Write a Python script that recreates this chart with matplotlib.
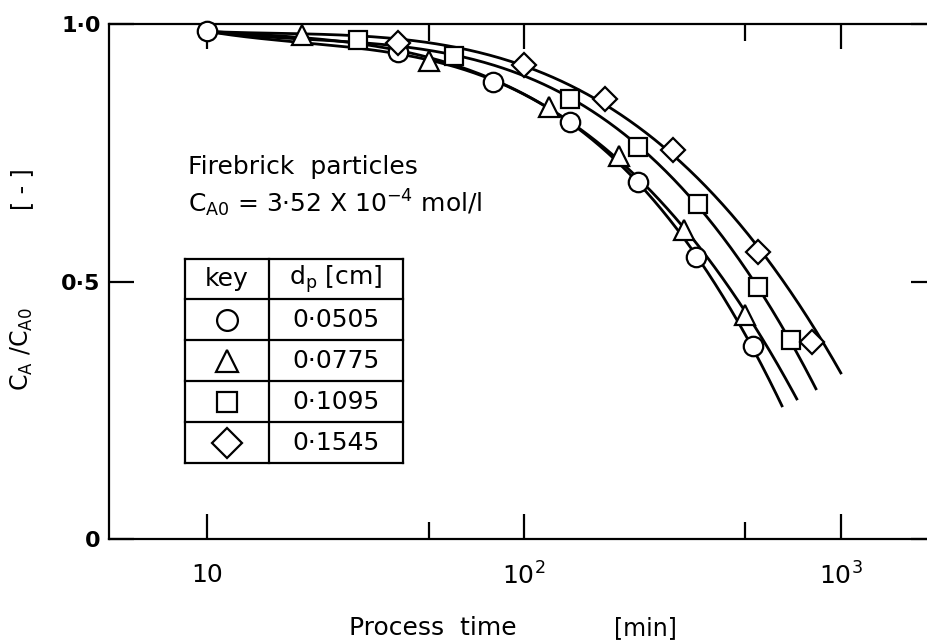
import matplotlib
matplotlib.use("Agg")
import matplotlib.pyplot as plt
from matplotlib.ticker import NullFormatter, FixedLocator
import numpy as np

# ------------------ Data ------------------
sizes = ["0·0505", "0·0775", "0·1095", "0·1545"]   # d_p [cm]
markers = ["o", "^", "s", "D"]

t_circle = [10, 40, 80, 140, 230, 350, 530]
v_circle = [0.986, 0.945, 0.887, 0.810, 0.693, 0.547, 0.375]

t_tri = [20, 50, 120, 200, 320, 500]
v_tri = [0.978, 0.928, 0.839, 0.744, 0.600, 0.435]

t_sq = [30, 60, 140, 230, 355, 550, 700]
v_sq = [0.969, 0.938, 0.854, 0.761, 0.650, 0.489, 0.386]

t_dia = [40, 100, 180, 295, 550, 815]
v_dia = [0.963, 0.920, 0.854, 0.755, 0.557, 0.383]

# smooth curves: common start point, individual end points
start_t, start_v = 10, 0.986
end_t = [656, 731, 840, 1007]
end_v = [0.256, 0.270, 0.289, 0.322]

series = [(t_circle, v_circle), (t_tri, v_tri), (t_sq, v_sq), (t_dia, v_dia)]

plt.rcParams.update({
    "font.family": "DejaVu Sans",
    "mathtext.default": "regular",
})

fig = plt.figure(figsize=(9.27, 6.42), dpi=100)
ax = fig.add_axes([0.1176, 0.1604, 0.892, 0.802])

# ------------------ Curves + points ------------------
msize = {"o": 14, "^": 15, "s": 13, "D": 12}
for (t, v), mk, te, ve in zip(series, markers, end_t, end_v):
    tt = np.array([start_t] + t + [te], dtype=float)
    vv = np.array([start_v] + v + [ve], dtype=float)
    w = np.ones_like(tt)
    w[0] = w[-1] = 4
    coef = np.polyfit(np.log10(tt), vv, 3, w=w)
    tc = np.logspace(np.log10(start_t), np.log10(te), 300)
    vc = np.polyval(coef, np.log10(tc))
    ax.plot(tc, vc, color="black", lw=2.0, zorder=2, solid_capstyle="butt")
    ax.plot(t, v, ls="none", marker=mk, ms=msize[mk], mfc="white", mec="black",
            mew=1.6, zorder=3, clip_on=False)

# ------------------ Axes ------------------
ax.set_xscale("log")
ax.set_xlim(4.9, 2000)
ax.set_ylim(0, 1.0)
for s in ["top", "bottom", "left", "right"]:
    ax.spines[s].set_linewidth(1.6)

ax.xaxis.set_major_locator(FixedLocator([10, 100, 1000]))
ax.xaxis.set_minor_locator(FixedLocator([50, 500]))
ax.xaxis.set_minor_formatter(NullFormatter())
ax.set_xticklabels(["10", "$10^2$", "$10^3$"])
ax.set_yticks([0, 0.5, 1.0])
ax.set_yticklabels(["0", "0·5", "1·0"])

ax.tick_params(which="major", direction="in", length=18, width=1.6,
               top=True, right=True)
ax.tick_params(which="minor", direction="in", length=12, width=1.6,
               top=True, right=True)
ax.tick_params(axis="x", pad=17, labelsize=18)
ax.tick_params(axis="y", pad=6, labelsize=16)
for lab in ax.get_yticklabels():
    lab.set_fontweight("bold")

# ------------------ Annotation ------------------
ax.text(0.0955, 0.722, "Firebrick  particles", transform=ax.transAxes,
        fontsize=18, va="center", ha="left")
ax.text(0.0955, 0.652, "$C_{A0}$ = 3·52 X $10^{-4}$ mol/l",
        transform=ax.transAxes, fontsize=18, va="center", ha="left")

# ------------------ Key table ------------------
tx0, tx1, tx2 = 0.0919, 0.1935, 0.3555
row_y = [0.5437, 0.466, 0.3863, 0.3068, 0.2272, 0.1476]
lw_t = 1.6
for y in row_y:
    ax.plot([tx0, tx2], [y, y], transform=ax.transAxes, color="black", lw=lw_t, clip_on=False)
for x in [tx0, tx1, tx2]:
    ax.plot([x, x], [row_y[0], row_y[-1]], transform=ax.transAxes, color="black", lw=lw_t, clip_on=False)
ax.text((tx0 + tx1) / 2, (row_y[0] + row_y[1]) / 2, "key", transform=ax.transAxes,
        fontsize=18, ha="center", va="center")
ax.text((tx1 + tx2) / 2, (row_y[0] + row_y[1]) / 2, "$d_p$ [cm]", transform=ax.transAxes,
        fontsize=18, ha="center", va="center")
for i, (lab, mk) in enumerate(zip(sizes, markers)):
    yc = (row_y[i + 1] + row_y[i + 2]) / 2
    ms = {"o": 15, "^": 16, "s": 14, "D": 15}[mk]
    ax.plot([(tx0 + tx1) / 2], [yc], transform=ax.transAxes, marker=mk, ms=ms,
            mfc="white", mec="black", mew=1.6, ls="none", clip_on=False)
    ax.text((tx1 + tx2) / 2, yc, lab, transform=ax.transAxes, fontsize=18,
            ha="center", va="center")

# ------------------ Axis titles ------------------
fig.text(0.024, 0.456, "$C_A$ /$C_{A0}$", rotation=90, fontsize=17,
         ha="center", va="center")
fig.text(0.024, 0.706, "[ - ]", rotation=90, fontsize=17, ha="center", va="center")
fig.text(0.467, 0.022, "Process  time", fontsize=18, ha="center", va="center")
fig.text(0.696, 0.022, "[min]", fontsize=17, ha="center", va="center")

fig.savefig("out.png", dpi=100)
